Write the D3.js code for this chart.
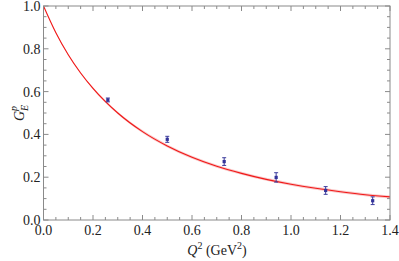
<!DOCTYPE html>
<html>
<head>
<meta charset="utf-8">
<script src="https://cdn.jsdelivr.net/npm/d3@7"></script>
<style>
  body { margin: 0; background: #fff; }
  svg text { font-family: "Liberation Serif", "Times New Roman", serif; }
</style>
</head>
<body>
<script>
// measured points
var q2 = [0.26, 0.50, 0.73, 0.94, 1.14, 1.33];
var ge = [0.561, 0.377, 0.273, 0.199, 0.138, 0.090];
var geErr = [0.009, 0.014, 0.018, 0.022, 0.018, 0.018];

// fitted curve
var curveQ2 = [0, 0.05, 0.1, 0.15, 0.2, 0.3, 0.4, 0.5, 0.6, 0.7, 0.8, 0.9, 1.0, 1.1, 1.2, 1.3, 1.4];
var curveG = [1.0, 0.875, 0.772, 0.687, 0.615, 0.50, 0.413, 0.346, 0.293, 0.251, 0.218, 0.190, 0.167, 0.148, 0.132, 0.118, 0.108];
var curveBand = [0, 0.002, 0.003, 0.004, 0.005, 0.006, 0.007, 0.007, 0.007, 0.007, 0.007, 0.007, 0.007, 0.007, 0.007, 0.007, 0.007];

var xTicks = [0.0, 0.2, 0.4, 0.6, 0.8, 1.0, 1.2, 1.4];
var yTicks = [0.0, 0.2, 0.4, 0.6, 0.8, 1.0];

var width = 399, height = 261;
var margin = {left: 43.5, right: 9, top: 6, bottom: 41};

var svg = d3.select("body").append("svg")
    .attr("width", width)
    .attr("height", height);

var x = d3.scaleLinear().domain([0, 1.4]).range([margin.left, width - margin.right]);
var y = d3.scaleLinear().domain([0, 1.0]).range([height - margin.bottom, margin.top]);

var frameColor = "#8a8a8a";

// band + curve
var curveData = curveQ2.map(function (d, i) {
    return {q: d, g: curveG[i], e: curveBand[i]};
});

svg.append("path")
    .datum(curveData)
    .attr("fill", "#f7bcbc")
    .attr("opacity", 0.8)
    .attr("d", d3.area()
        .x(function (d) { return x(d.q); })
        .y0(function (d) { return y(d.g - d.e); })
        .y1(function (d) { return y(d.g + d.e); })
        .curve(d3.curveMonotoneX));

svg.append("path")
    .datum(curveData)
    .attr("fill", "none")
    .attr("stroke", "#f01818")
    .attr("stroke-width", 1.1)
    .attr("d", d3.line()
        .x(function (d) { return x(d.q); })
        .y(function (d) { return y(d.g); })
        .curve(d3.curveMonotoneX));

// frame with inward ticks on all sides
var major = 5, minor = 3;
var g = svg.append("g").attr("stroke", frameColor).attr("stroke-width", 1);

g.append("rect")
    .attr("x", x(0)).attr("y", y(1))
    .attr("width", x(1.4) - x(0)).attr("height", y(0) - y(1))
    .attr("fill", "none");

var xMinor = d3.range(0, 1.4001, 0.05);
var yMinor = d3.range(0, 1.0001, 0.05);

xMinor.forEach(function (v, i) {
    var len = (i % 4 === 0) ? major : minor;
    g.append("line").attr("x1", x(v)).attr("x2", x(v)).attr("y1", y(0)).attr("y2", y(0) - len);
    g.append("line").attr("x1", x(v)).attr("x2", x(v)).attr("y1", y(1)).attr("y2", y(1) + len);
});
yMinor.forEach(function (v, i) {
    var len = (i % 4 === 0) ? major : minor;
    g.append("line").attr("y1", y(v)).attr("y2", y(v)).attr("x1", x(0)).attr("x2", x(0) + len);
    g.append("line").attr("y1", y(v)).attr("y2", y(v)).attr("x1", x(1.4)).attr("x2", x(1.4) - len);
});

// tick labels
svg.append("g").selectAll("text")
    .data(xTicks)
    .enter().append("text")
    .attr("x", function (d) { return x(d); })
    .attr("y", y(0) + 15)
    .attr("text-anchor", "middle")
    .attr("font-size", 14)
    .attr("fill", "#222")
    .text(function (d) { return d.toFixed(1); });

svg.append("g").selectAll("text")
    .data(yTicks)
    .enter().append("text")
    .attr("x", x(0) - 3)
    .attr("y", function (d) { return y(d) + 5; })
    .attr("text-anchor", "end")
    .attr("font-size", 14)
    .attr("fill", "#222")
    .text(function (d) { return d.toFixed(1); });

// data points with error bars
var pts = svg.append("g");
q2.forEach(function (q, i) {
    var cx = x(q), cy = y(ge[i]);
    var top = y(ge[i] + geErr[i]), bot = y(ge[i] - geErr[i]);
    pts.append("line").attr("x1", cx).attr("x2", cx).attr("y1", top).attr("y2", bot)
        .attr("stroke", "#3b3b9c").attr("stroke-width", 1);
    pts.append("line").attr("x1", cx - 2).attr("x2", cx + 2).attr("y1", top).attr("y2", top)
        .attr("stroke", "#3b3b9c").attr("stroke-width", 1);
    pts.append("line").attr("x1", cx - 2).attr("x2", cx + 2).attr("y1", bot).attr("y2", bot)
        .attr("stroke", "#3b3b9c").attr("stroke-width", 1);
    pts.append("rect").attr("x", cx - 1.6).attr("y", cy - 1.6).attr("width", 3.2).attr("height", 3.2)
        .attr("fill", "#33339a");
});

// axis titles
var xl = svg.append("text")
    .attr("x", 217)
    .attr("y", 255)
    .attr("text-anchor", "middle")
    .attr("font-size", 14)
    .attr("fill", "#222");
xl.append("tspan").attr("font-style", "italic").text("Q");
xl.append("tspan").attr("font-size", 10).attr("dy", -6).text("2");
xl.append("tspan").attr("dy", 6).text(" (GeV");
xl.append("tspan").attr("font-size", 10).attr("dy", -6).text("2");
xl.append("tspan").attr("dy", 6).text(")");

var yl = svg.append("text")
    .attr("transform", "translate(24," + 113 + ") rotate(-90)")
    .attr("text-anchor", "middle")
    .attr("font-size", 14)
    .attr("fill", "#222");
yl.append("tspan").attr("font-style", "italic").text("G");
yl.append("tspan").attr("font-style", "italic").attr("font-size", 10).attr("dy", 4).text("E");
yl.append("tspan").attr("font-style", "italic").attr("font-size", 10).attr("dx", -6).attr("dy", -11).text("p");
</script>
</body>
</html>
